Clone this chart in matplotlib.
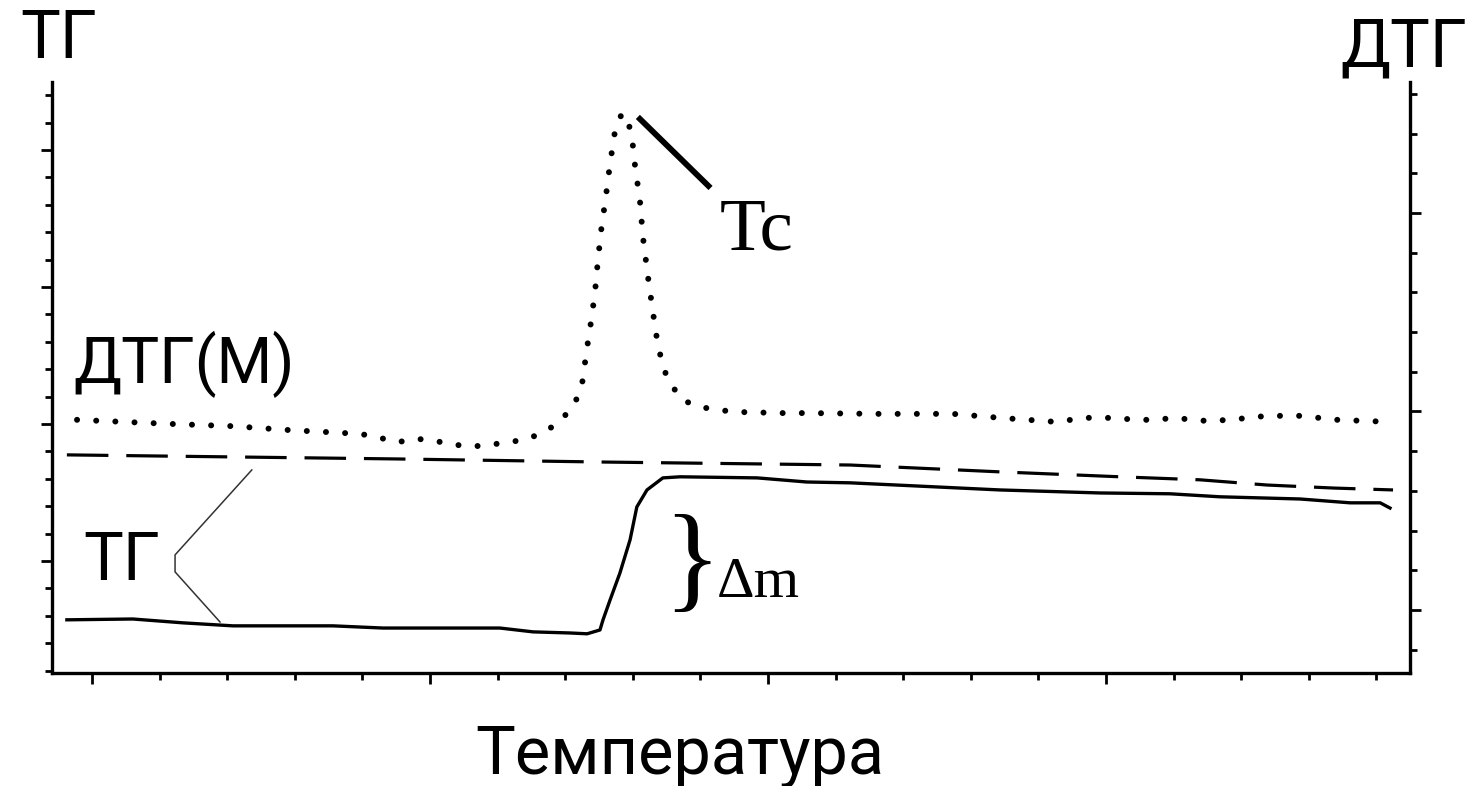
import matplotlib.pyplot as plt
from matplotlib.ticker import MultipleLocator

plt.rcParams['font.family'] = ['Roboto', 'DejaVu Sans']

# temperature axis (arbitrary units, minor tick every 20)
tg_temp = [-7.4, 12.1, 26.9, 41.7, 71.3, 86.1, 120.7, 130.5, 141.4, 146.5, 150.3,
           151.2, 153.3, 156.2, 159.2, 161.2, 164.2, 168.9, 174.0, 196.8, 211.5,
           224.3, 268.6, 298.2, 318.9, 333.7, 357.4, 372.2, 381.1, 384.0]
tg_mass = [-2.15, -2.12, -2.26, -2.37, -2.37, -2.45, -2.45, -2.59, -2.63, -2.66, -2.52,
           -2.15, -1.42, -0.44, 0.77, 1.97, 2.59, 3.03, 3.07, 3.03, 2.88,
           2.85, 2.59, 2.48, 2.45, 2.34, 2.26, 2.12, 2.12, 1.93]

tg0_temp = [-7.4, 91.1, 150.3, 224.3, 268.6, 304.1, 327.8, 347.6, 367.2, 384.9]
tg0_mass = [3.87, 3.72, 3.61, 3.50, 3.25, 3.07, 2.96, 2.77, 2.66, 2.59]

dtg_temp = [-4.4, 22.2, 41.7, 58.6, 74.3, 81.4, 90.5, 96.5, 105.0, 109.8, 115.7,
            121.6, 127.5, 132.6, 136.1, 139.4, 142.9, 145.0, 146.5, 147.3, 148.8,
            149.7, 150.9, 151.8, 153.3, 153.9, 154.7, 156.8, 159.2, 160.1, 160.7,
            162.1, 163.0, 164.5, 166.0, 167.2, 168.9, 171.0, 174.6, 179.9, 189.7,
            204.4, 211.5, 232.3, 254.7, 268.6, 284.9, 294.4, 300.3, 310.1, 315.1,
            319.8, 329.9, 336.7, 347.6, 357.4, 368.4, 383.1]
dtg_val = [4.79, 4.69, 4.63, 4.53, 4.46, 4.41, 4.23, 4.31, 4.21, 4.13, 4.13,
           4.21, 4.28, 4.43, 4.61, 4.84, 5.21, 5.69, 6.62, 7.05, 7.98,
           8.82, 9.75, 10.25, 11.26, 11.59, 12.04, 12.52, 12.14, 11.66, 11.16,
           10.33, 9.40, 8.39, 7.48, 6.80, 6.12, 5.72, 5.29, 5.11, 4.99,
           4.96, 4.96, 4.94, 4.94, 4.84, 4.74, 4.84, 4.84, 4.79, 4.79,
           4.84, 4.76, 4.79, 4.89, 4.89, 4.79, 4.74]

fig = plt.figure(figsize=(14.69, 7.86), dpi=100)
ax = fig.add_axes([0.0354, 0.1438, 0.9244, 0.7519])
ax2 = ax.twinx()

ax.plot(tg_temp, tg_mass, color='black', lw=2.4)
ax.plot(tg0_temp, tg0_mass, color='black', lw=2.3, linestyle=(0, (13, 5.6)))
ax2.plot(dtg_temp, dtg_val, color='black', lw=4.3, linestyle=(0, (0.01, 3.2)),
         dash_capstyle='round')

ax.set_xlim(-11.8, 389.9)
ax.set_ylim(-4.09, 17.48)
ax2.set_ylim(-1.587, 13.30)

ax.xaxis.set_major_locator(MultipleLocator(100))
ax.xaxis.set_minor_locator(MultipleLocator(20))
ax.yaxis.set_major_locator(MultipleLocator(5))
ax.yaxis.set_minor_locator(MultipleLocator(1))
ax2.yaxis.set_major_locator(MultipleLocator(5))
ax2.yaxis.set_minor_locator(MultipleLocator(1))

for a in (ax, ax2):
    for s in a.spines.values():
        s.set_linewidth(2.4)
    a.spines['top'].set_visible(False)
    a.tick_params(which='major', direction='out', length=8, width=2,
                  labelleft=False, labelright=False, labelbottom=False)
    a.tick_params(which='minor', direction='out', length=5, width=2)
ax.spines['right'].set_visible(False)
ax2.spines['left'].set_visible(False)
ax2.spines['bottom'].set_visible(False)

# pointer to the peak
ax2.plot([161.5, 183.0], [12.42, 10.63], color='black', lw=4.2, solid_capstyle='butt')
ax2.text(185.8, 9.07, 'Tc', family='Liberation Serif', fontsize=54, va='baseline')

# mass-loss brace
ax.text(177.5, -0.22, '}', family='Liberation Serif', fontsize=86, va='center',
        ha='center', fontweight='light')
ax.text(184.9, -1.31, 'Δm', family='Liberation Serif', fontsize=42, va='baseline')

# lines from the TG label to both curves
ax.plot([47.3, 24.6, 24.6, 37.9], [3.32, 0.22, -0.40, -2.23], color='#333333', lw=1.1)

fs = 48
fig.text(0.0136, 0.926, 'ТГ', fontsize=fs, va='baseline')
fig.text(0.9985, 0.9148, 'ДТГ', fontsize=fs, va='baseline', ha='right')
fig.text(0.0497, 0.5127, 'ДТГ(М)', fontsize=46, va='baseline')
fig.text(0.0565, 0.2621, 'ТГ', fontsize=fs, va='baseline')
fig.text(0.4629, 0.0165, 'Температура', fontsize=fs, va='baseline', ha='center')

fig.savefig('out.png', dpi=100)
